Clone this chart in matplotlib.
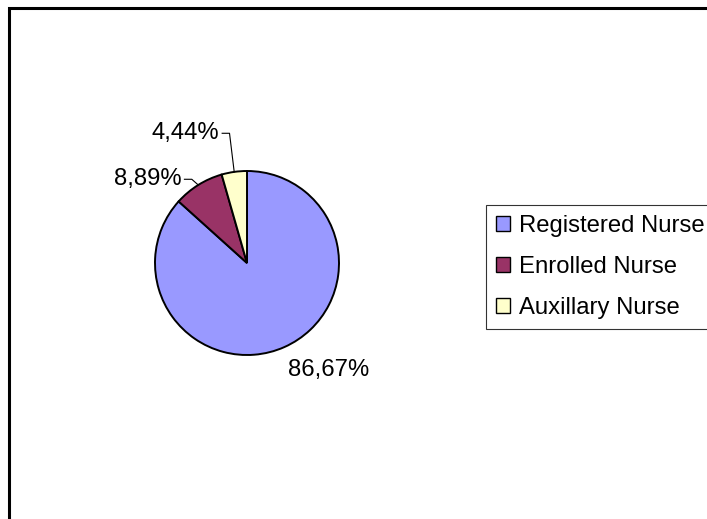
import matplotlib
matplotlib.use('Agg')
import numpy as np
import matplotlib.pyplot as plt
from matplotlib.patches import Patch, Rectangle

# Data
categories = ['Registered Nurse', 'Enrolled Nurse', 'Auxillary Nurse']
shares = [86.67, 8.89, 4.44]
labels = ['86,67%', '8,89%', '4,44%']
colors = ['#9999FF', '#993366', '#FFFFCC']

plt.rcParams['font.family'] = ['Liberation Sans', 'DejaVu Sans']
FS = 17.2

W, H = 707, 519
fig = plt.figure(figsize=(W / 100, H / 100), dpi=100)
ax = fig.add_axes([0, 0, 1, 1])

wedges, _ = ax.pie(shares, colors=colors, startangle=90, counterclock=False,
                   wedgeprops=dict(edgecolor='black', linewidth=1.4))

# pie centre at (247, 263) px, radius 92 px
cx, cy, R = 247, 263, 92
ax.set_xlim(-cx / R, (W - cx) / R)
ax.set_ylim(-(H - cy) / R, cy / R)
ax.axis('off')

# label placement (data units, radius = 1)
label_pos = [(0.89, -1.16, 'center'), (-0.71, 0.91, 'right'), (-0.30, 1.41, 'right')]
for w, lab, (lx, ly, ha) in zip(wedges, labels, label_pos):
    ax.text(lx, ly, lab, ha=ha, va='center', fontsize=FS)
    if ha == 'right':
        mid = np.deg2rad((w.theta1 + w.theta2) / 2)
        px, py = np.cos(mid), np.sin(mid)
        x0 = lx + 0.03
        ax.plot([x0, x0 + 0.08, px], [ly, ly, py], color='black', lw=0.8)

# chart frame (extends past right and bottom edge)
fig.patches.append(Rectangle((9 / W, -0.1), 1.2, 1 - 8 / H + 0.1,
                             transform=fig.transFigure, fill=False,
                             edgecolor='black', linewidth=2.2))

handles = [Patch(facecolor=c, edgecolor='black', linewidth=1) for c in colors]
leg = fig.legend(handles, categories, loc='upper left',
                 bbox_to_anchor=(486 / W, 1 - 205 / H), fontsize=FS,
                 frameon=True, fancybox=False, edgecolor='black',
                 handlelength=0.6, handleheight=0.6, handletextpad=0.4,
                 labelspacing=0.81, borderpad=0.4, borderaxespad=0)
leg.get_frame().set_linewidth(0.8)

fig.savefig('out.png', dpi=100)
